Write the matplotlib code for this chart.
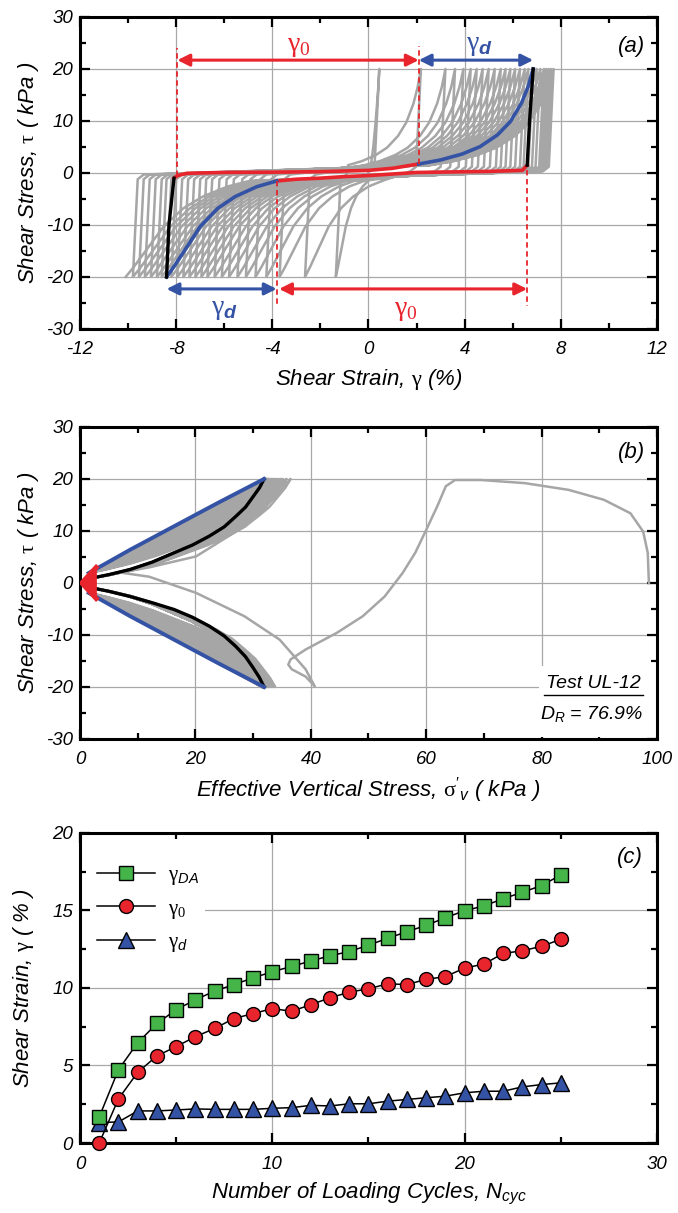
import numpy as np
import matplotlib
matplotlib.use("Agg")
import matplotlib.pyplot as plt
from matplotlib.ticker import MultipleLocator
from matplotlib.patches import Rectangle, Polygon

plt.rcParams['font.family'] = 'Liberation Sans'
plt.rcParams['font.style'] = 'italic'
plt.rcParams['axes.unicode_minus'] = False
plt.rcParams['mathtext.fontset'] = 'custom'
plt.rcParams['mathtext.rm'] = 'Liberation Serif:style=normal'
plt.rcParams['mathtext.it'] = 'Liberation Sans:style=italic'
plt.rcParams['mathtext.bf'] = 'Liberation Sans:style=italic:weight=bold'
plt.rcParams['mathtext.sf'] = 'Liberation Sans:style=italic'

GRAY = '#a6a6a6'
RED = '#e8252d'
BLUE = '#3553a4'
GREEN = '#45b549'

# ---------------- panel (a) data: stress-strain loops ----------------
# strain at tau = +20 / -20 for each cycle
a_right_peak = [0.45, 2.18, 3.2, 3.6, 3.95, 4.25, 4.5, 4.75, 5.0, 5.25, 5.5, 5.7, 5.9,
                6.1, 6.3, 6.5, 6.65, 6.85, 7.0, 7.15, 7.3, 7.4, 7.5, 7.6, 7.7]
a_left_peak = [-1.36, -2.64, -3.7, -4.25, -4.7, -5.1, -5.45, -5.8, -6.1, -6.4, -6.7, -6.95,
               -7.2, -7.45, -7.7, -7.95, -8.2, -8.4, -8.6, -8.8, -9.05, -9.3, -9.55, -9.8, -10.1]
a_init_x = [0.0, 0.1, 0.2, 0.3, 0.4, 0.45]
a_init_y = [0.0, 1.5, 5.0, 10.0, 16.0, 20.0]

# highlighted cycle
a_black_lo_x = [-8.4, -8.3, -8.09]
a_black_lo_y = [-20.0, -10.0, -1.0]
a_red_up_x = [-8.09, -7.95, -7.55, -6.0, -4.0, -2.0, 0.0, 1.0, 2.09]
a_red_up_y = [-1.0, -0.5, -0.06, 0.1, 0.15, 0.25, 0.5, 0.9, 1.73]
a_blue_up_x = [2.09, 3.0, 3.9, 4.64, 5.36, 5.9, 6.36, 6.64, 6.85]
a_blue_up_y = [1.73, 2.5, 3.65, 5.06, 7.3, 9.87, 13.4, 16.6, 20.0]
a_black_hi_x = [6.85, 6.7, 6.6]
a_black_hi_y = [20.0, 10.0, 1.5]
a_red_dn_x = [6.6, 6.4, 5.0, 2.0, 0.0, -1.0, -2.0, -3.0, -3.82]
a_red_dn_y = [1.5, 0.5, 0.3, 0.1, -0.5, -0.7, -1.0, -1.2, -1.54]
a_blue_dn_x = [-3.82, -4.64, -5.55, -6.27, -7.0, -7.55, -8.09, -8.4]
a_blue_dn_y = [-1.54, -2.63, -4.55, -6.8, -10.3, -14.2, -18.0, -20.0]

# ---------------- panel (b) data: stress path ----------------
b_init_s = [98.6, 98.4, 97.6, 95.4, 90.8, 84.7, 77.1, 69.5, 65.0, 63.4, 61.9, 60.0, 58.1,
            55.9, 52.8, 49.0, 44.5, 39.1, 36.5, 36.1, 36.7, 39.1, 40.7]
b_init_t = [0.0, 5.8, 9.9, 13.4, 16.0, 17.9, 19.2, 19.8, 19.8, 18.6, 14.7, 10.2, 5.8,
            1.9, -2.6, -6.4, -9.6, -12.8, -14.7, -15.7, -16.6, -18.0, -19.9]
b_reload_s = [40.7, 39.1, 34.6, 28.5, 20.1, 12.0, 7.0, 12.0, 20.1, 28.5, 33.8, 36.5]
b_reload_t = [-19.9, -16.6, -10.9, -6.4, -1.9, 1.2, 2.0, 3.0, 5.1, 10.9, 16.6, 20.0]
b_upper_peak = [36.5, 35.8, 35.2, 34.8, 34.4, 34.1, 33.8, 33.5, 33.3, 33.1, 32.9, 32.7,
                32.6, 32.5, 32.4, 32.3, 32.2, 32.1, 32.0, 32.0, 31.9, 31.9, 31.9, 31.9]
b_lower_peak = [33.8, 33.4, 33.1, 32.9, 32.7, 32.5, 32.4, 32.3, 32.2, 32.1, 32.0, 31.9,
                31.8, 31.7, 31.7, 31.6, 31.6, 31.5, 31.5, 31.5, 31.5, 31.5, 31.5, 31.5]
b_blue_up_s = [1.5, 8.7, 16.3, 23.9, 31.9]
b_blue_up_t = [1.9, 6.4, 10.9, 15.4, 20.0]
b_blue_dn_s = [1.5, 8.7, 16.3, 23.9, 31.9]
b_blue_dn_t = [-1.9, -6.4, -10.9, -15.4, -20.0]
b_black_up_s = [2.3, 5.0, 8.7, 12.5, 16.3, 19.5, 22.4, 25.0, 27.0, 28.7, 30.0, 31.1, 31.9]
b_black_up_t = [1.0, 1.6, 2.6, 4.0, 5.8, 7.3, 9.0, 10.8, 12.8, 14.6, 16.6, 18.3, 20.0]
b_black_dn_s = [2.3, 5.0, 8.7, 12.5, 16.3, 19.5, 22.4, 25.0, 27.0, 28.7, 30.0, 31.1, 31.9]
b_black_dn_t = [-1.0, -1.6, -2.6, -3.8, -5.1, -6.6, -8.3, -10.2, -12.2, -14.2, -16.3, -18.2, -20.0]
b_red_s = [2.8, 0.3, 2.8]
b_red_t = [3.0, 0.0, -3.0]

# ---------------- panel (c) data ----------------
cycles = list(range(1, 26))
gamma_da = [1.68, 4.73, 6.47, 7.71, 8.60, 9.24, 9.80, 10.22, 10.65, 11.05, 11.39, 11.74, 12.08,
            12.35, 12.76, 13.21, 13.63, 14.04, 14.53, 14.99, 15.29, 15.76, 16.17, 16.61, 17.29]
gamma_0 = [0.0, 2.85, 4.56, 5.62, 6.22, 6.86, 7.39, 8.03, 8.35, 8.67, 8.50, 8.92, 9.37,
           9.73, 9.95, 10.27, 10.22, 10.56, 10.73, 11.29, 11.54, 12.23, 12.40, 12.69, 13.14]
gamma_d = [1.32, 1.36, 2.07, 2.07, 2.13, 2.20, 2.17, 2.17, 2.17, 2.24, 2.28, 2.43, 2.39,
           2.53, 2.53, 2.70, 2.81, 2.92, 3.02, 3.24, 3.34, 3.34, 3.62, 3.77, 3.88]


def normalise(xs, ys):
    xs = np.asarray(xs, float)
    ys = np.asarray(ys, float)
    return (xs - xs[0]) / (xs[-1] - xs[0]), (ys - ys[0]) / (ys[-1] - ys[0])


def style_axes(ax, xmaj, xmin, ymaj, ymin):
    ax.xaxis.set_major_locator(MultipleLocator(xmaj))
    ax.xaxis.set_minor_locator(MultipleLocator(xmin))
    ax.yaxis.set_major_locator(MultipleLocator(ymaj))
    ax.yaxis.set_minor_locator(MultipleLocator(ymin))
    ax.tick_params(which='both', direction='in', top=True, right=True, width=1.6,
                   labelsize=13.5)
    ax.tick_params(axis='x', which='major', length=7, pad=9)
    ax.tick_params(axis='y', which='major', length=7, pad=5)
    ax.tick_params(which='minor', length=4)
    for s in ax.spines.values():
        s.set_linewidth(2.2)
    ax.grid(True, which='major', color='#a8a8a8', lw=0.9)
    ax.set_axisbelow(True)


fig = plt.figure(figsize=(6.78, 12.13), dpi=100)
ax_a = fig.add_axes([0.118, 0.7288, 0.851, 0.2572])
ax_b = fig.add_axes([0.118, 0.3908, 0.851, 0.2572])
ax_c = fig.add_axes([0.118, 0.0577, 0.851, 0.2556])

LABEL_FS = 16

# ================= (a) =================
up_u, up_t = normalise(a_blue_up_x, a_blue_up_y)
dn_u, dn_t = normalise(a_blue_dn_x, a_blue_dn_y)


def half_loop(x_from, x_to):
    d = 1 if x_to > x_from else -1
    u, t = (up_u, up_t) if d > 0 else (dn_u, dn_t)
    span = abs(x_to - x_from)
    w = min(span - 0.45, 2.5 + 0.15 * span)
    x_c = x_to - d * w
    xs = [x_from, x_from + d * 0.2, x_from + d * 0.45]
    ys = [-d * 20, -d * 1.2, -d * 0.3]
    xs += list(x_c + d * w * u)
    ys += list(d * (1.5 + 18.5 * t))
    return xs, ys


gx, gy = list(a_init_x), list(a_init_y)
for k in range(len(a_right_peak)):
    xs, ys = half_loop(a_right_peak[k], a_left_peak[k])
    gx += xs
    gy += ys
    if k + 1 < len(a_right_peak):
        xs, ys = half_loop(a_left_peak[k], a_right_peak[k + 1])
        gx += xs
        gy += ys
ax_a.plot(gx, gy, color=GRAY, lw=1.8, zorder=2, solid_joinstyle='round')

ax_a.plot(a_red_up_x, a_red_up_y, color=RED, lw=2.6, zorder=3)
ax_a.plot(a_red_dn_x, a_red_dn_y, color=RED, lw=2.6, zorder=3)
ax_a.plot(a_blue_up_x, a_blue_up_y, color=BLUE, lw=2.6, zorder=4)
ax_a.plot(a_blue_dn_x, a_blue_dn_y, color=BLUE, lw=2.6, zorder=4)
ax_a.plot(a_black_lo_x, a_black_lo_y, color='black', lw=2.4, zorder=5)
ax_a.plot(a_black_hi_x, a_black_hi_y, color='black', lw=2.4, zorder=5)

# dimension lines
dash = dict(color=RED, lw=1.3, ls=(0, (3, 2)), zorder=6)
ax_a.plot([a_red_up_x[1], a_red_up_x[1]], [a_red_up_y[1], 24.0], **dash)
ax_a.plot([a_blue_up_x[0], a_blue_up_x[0]], [a_blue_up_y[0], 24.5], **dash)
ax_a.plot([a_blue_dn_x[0], a_blue_dn_x[0]], [a_blue_dn_y[0], -25.5], **dash)
ax_a.plot([a_red_dn_x[0], a_red_dn_x[0]], [a_red_dn_y[1], -25.5], **dash)


def dim_arrow(ax, x0, x1, y, color):
    ax.annotate('', xy=(x1, y), xytext=(x0, y), zorder=7,
                arrowprops=dict(arrowstyle='<|-|>', color=color, lw=2.2,
                                mutation_scale=18, shrinkA=0, shrinkB=0))


dim_arrow(ax_a, a_red_up_x[1], a_blue_up_x[0], 21.7, RED)
dim_arrow(ax_a, a_blue_up_x[0], a_blue_up_x[-1], 21.7, BLUE)
dim_arrow(ax_a, a_blue_dn_x[-1], a_blue_dn_x[0], -22.3, BLUE)
dim_arrow(ax_a, a_blue_dn_x[0] + 0.1, a_red_dn_x[0], -22.3, RED)

g0 = r'$\mathrm{\gamma}_\mathrm{0}$'
gd = r'$\mathrm{\gamma}_\mathbf{d}$'
ax_a.text(-2.9, 24.4, g0, color=RED, fontsize=20, ha='center', va='center')
ax_a.text(4.6, 24.6, gd, color=BLUE, fontsize=20, ha='center', va='center')
ax_a.text(-6.0, -26.2, gd, color=BLUE, fontsize=20, ha='center', va='center')
ax_a.text(1.55, -26.4, g0, color=RED, fontsize=20, ha='center', va='center')
ax_a.text(11.5, 24.3, '(a)', fontsize=16, ha='right', va='center')

ax_a.set_xlim(-12, 12)
ax_a.set_ylim(-30, 30)
style_axes(ax_a, 4, 2, 10, 5)
ax_a.set_xlabel(r'Shear Strain, $\mathrm{\gamma}$ (%)', fontsize=LABEL_FS, labelpad=6)
ax_a.set_ylabel(r'Shear Stress, $\mathrm{\tau}$ ( kPa )', fontsize=LABEL_FS, labelpad=4)

# ================= (b) =================
bu, bt = normalise(b_black_up_s, b_black_up_t)
n_wing = len(b_lower_peak)

bx = list(b_init_s) + list(b_reload_s)
by = list(b_init_t) + list(b_reload_t)
for k in range(n_wing):
    bow = 0.85 * (1 - k / (n_wing - 1))
    P = b_upper_peak[k]
    # unload from upper peak to apex
    bx += list((2.3 + bu * (P - 2.3))[::-1])
    by += list((1.0 + bt * 19.0)[::-1])
    # load to lower peak
    Q = b_lower_peak[k]
    bx += list(1.5 + bu * (Q - 1.5))
    by += list(-(1.9 + ((1 - bow) * bu + bow * bt) * 18.1))
    # unload from lower peak
    bx += list((2.3 + bu * (Q - 2.3))[::-1])
    by += list((-1.0 - bt * 19.0)[::-1])
    if k + 1 < n_wing:
        P2 = b_upper_peak[k + 1]
        bx += list(1.5 + bu * (P2 - 1.5))
        by += list(1.9 + ((1 - bow) * bu + bow * bt) * 18.1)
ax_b.plot(bx, by, color=GRAY, lw=1.8, zorder=2, solid_joinstyle='round')

ax_b.plot(b_black_up_s, b_black_up_t, color='black', lw=2.4, zorder=4)
ax_b.plot(b_black_dn_s, b_black_dn_t, color='black', lw=2.4, zorder=4)
ax_b.plot(b_blue_up_s, b_blue_up_t, color=BLUE, lw=2.8, zorder=5)
ax_b.plot(b_blue_dn_s, b_blue_dn_t, color=BLUE, lw=2.8, zorder=5)
ax_b.add_patch(Polygon(list(zip(b_red_s, b_red_t)), closed=True, color=RED, zorder=6))
ax_b.plot(b_red_s, b_red_t, color=RED, lw=3.5, zorder=6)

ax_b.add_patch(Rectangle((79.5, -29.6), 20.3, 13.6, facecolor='white', edgecolor='none', zorder=1.5))
ax_b.text(88.9, -19.4, 'Test UL-12', fontsize=14, ha='center', va='center', zorder=7)
ax_b.plot([80.4, 97.6], [-21.5, -21.5], color='black', lw=1.0, zorder=7)
ax_b.text(88.6, -25.2, r'$D_R$ = 76.9%', fontsize=14, ha='center', va='center', zorder=7)
ax_b.text(98.0, 25.0, '(b)', fontsize=16, ha='right', va='center')

ax_b.set_xlim(0, 100)
ax_b.set_ylim(-30, 30)
style_axes(ax_b, 20, 10, 10, 5)
ax_b.set_xlabel(r"Effective Vertical Stress, $\mathrm{\sigma}'_{v}$ ( kPa )", fontsize=LABEL_FS, labelpad=5)
ax_b.set_ylabel(r'Shear Stress, $\mathrm{\tau}$ ( kPa )', fontsize=LABEL_FS, labelpad=4)

# ================= (c) =================
l_d, = ax_c.plot(cycles, gamma_d, '-^', color='black', lw=1.1, mfc=BLUE, mec='black',
                 mew=1.0, ms=11, zorder=3, label=r'$\mathrm{\gamma}_{d}$')
l_0, = ax_c.plot(cycles, gamma_0, '-o', color='black', lw=1.1, mfc=RED, mec='black',
                 mew=1.0, ms=10, zorder=4, label=r'$\mathrm{\gamma}_{0}$')
l_da, = ax_c.plot(cycles, gamma_da, '-s', color='black', lw=1.1, mfc=GREEN, mec='black',
                  mew=1.0, ms=10, zorder=5, label=r'$\mathrm{\gamma}_{DA}$')
for ln in (l_d, l_0, l_da):
    ln.set_clip_on(False)
leg = ax_c.legend(handles=[l_da, l_0, l_d], loc='upper left', bbox_to_anchor=(0.0, 0.95),
                  fontsize=15, frameon=True, framealpha=1, edgecolor='none',
                  handlelength=2.8, labelspacing=0.55, borderpad=0.3, handletextpad=0.6)
leg.set_zorder(6)
ax_c.text(29.25, 18.4, '(c)', fontsize=16, ha='right', va='center')

ax_c.set_xlim(0, 30)
ax_c.set_ylim(0, 20)
style_axes(ax_c, 10, 5, 5, 2.5)
ax_c.set_xlabel(r'Number of Loading Cycles, $N_{cyc}$', fontsize=LABEL_FS, labelpad=6)
ax_c.set_ylabel(r'Shear Strain, $\mathrm{\gamma}$ ( % )', fontsize=LABEL_FS, labelpad=12)

fig.savefig('out.png', dpi=100)
